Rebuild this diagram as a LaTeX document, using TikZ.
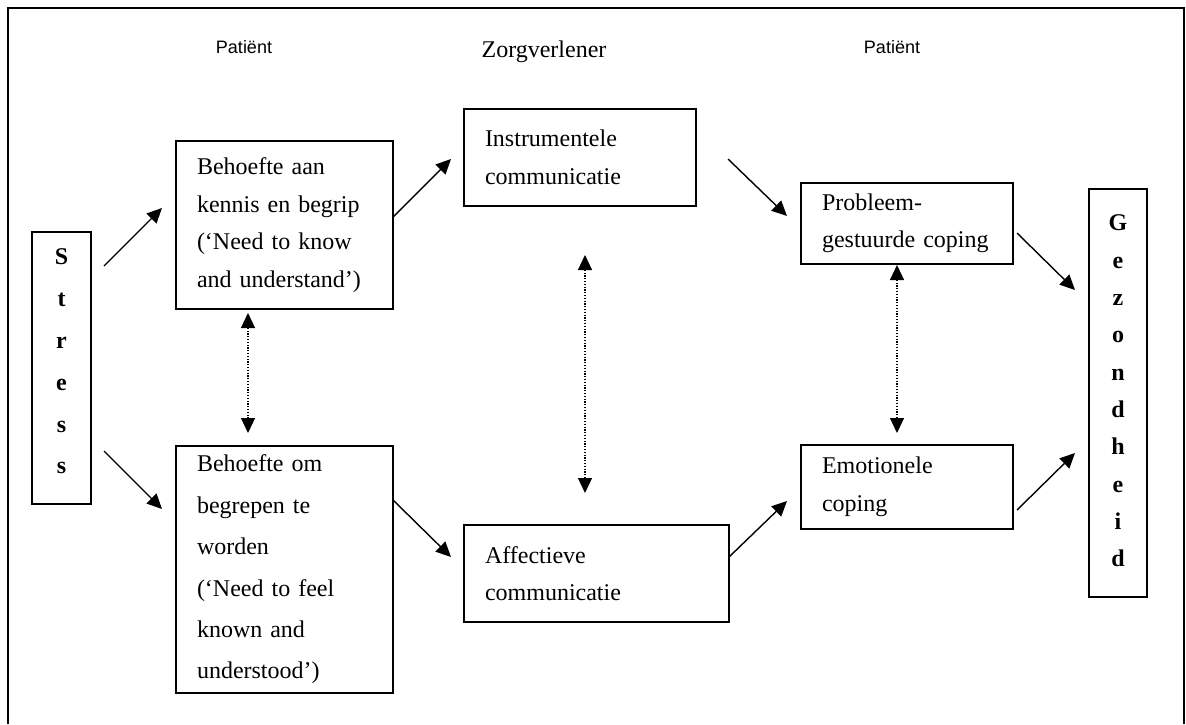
\documentclass[tikz,border=0pt]{standalone}
\usepackage{fontspec}
\setmainfont{Liberation Serif}
\newfontfamily\arialf{Liberation Sans}
\usetikzlibrary{arrows.meta,calc}
\begin{document}
\begin{tikzpicture}[x=1pt,y=-1pt,
  box/.style={draw,line width=1.6pt,rectangle,outer sep=0pt,inner ysep=0pt,inner xsep=21pt,
    anchor=north west,align=left,font=\fontsize{24}{37.5}\selectfont},
  vbox/.style={draw,line width=1.6pt,rectangle,outer sep=0pt,inner sep=0pt,anchor=north west},
  letters/.style={align=center,inner sep=0pt,font=\bfseries\fontsize{24}{#1}\selectfont},
  arr/.style={line width=1.4pt,-{Triangle[length=15pt,width=14pt]}},
  darr/.style={line width=1.2pt,dash pattern=on 1.3pt off 1.5pt,{Triangle[length=15pt,width=14pt]}-{Triangle[length=15pt,width=14pt]}},
  sanshead/.style={font=\arialf\fontsize{18}{20}\selectfont,anchor=base,inner sep=0pt},
  serifhead/.style={font=\fontsize{24}{28}\selectfont,anchor=base,inner sep=0pt}
]
\useasboundingbox (0,0) rectangle (1186,724);
\fill[white] (0,0) rectangle (1186,724);
% frame (open at bottom)
\coordinate (fbl) at (8,724);
\coordinate (ftl) at (8,8);
\coordinate (ftr) at (1184,8);
\coordinate (fbr) at (1184,724);
\draw[line width=2pt] (fbl) -- (ftl) -- (ftr) -- (fbr);

% headers
\node[sanshead] (hp1) at (244,53) {Patiënt};
\node[serifhead] (hz) at (544,57) {Zorgverlener};
\node[sanshead] (hp2) at (892,53) {Patiënt};

% boxes
\node[vbox,minimum width=59pt,minimum height=272pt] (stress) at (32,232) {};
\node[letters=41.8] (stresstxt) at ([yshift=6.5pt]stress.center) {S\\t\\r\\e\\s\\s};

\node[box,text width=175pt,minimum height=168pt] (b1) at (176,141)
  {Behoefte aan\\kennis en begrip\\(‘Need to know\\and understand’)};
\node[box,text width=175pt,minimum height=247pt,font=\fontsize{24}{41.4}\selectfont] (b2) at (176,446)
  {Behoefte om\\begrepen te\\worden\\(‘Need to feel\\known and\\understood’)};

\node[box,text width=190pt,minimum height=97pt] (instr) at (464,109)
  {Instrumentele\\communicatie};
\node[box,text width=223pt,minimum height=97pt] (affect) at (464,525)
  {Affectieve\\communicatie};

\node[box,text width=170pt,minimum height=81pt] (prob) at (801,183)
  {Probleem-\\gestuurde coping};
\node[box,text width=170pt,minimum height=84pt] (emot) at (801,445)
  {Emotionele\\coping};

\node[vbox,minimum width=58pt,minimum height=408pt] (gez) at (1089,189) {};
\node[letters=37.3] (geztxt) at ([yshift=2pt]gez.center) {G\\e\\z\\o\\n\\d\\h\\e\\i\\d};

% solid arrows
\draw[arr] ($(stress.north east)+(13,34)$) -- ($(b1.north west)+(-14,67)$);
\draw[arr] ($(stress.north east)+(13,219)$) -- ($(b2.north west)+(-14,63)$);
\draw[arr] ($(b1.north east)+(0,76)$) -- ($(instr.north west)+(-13,50)$);
\draw[arr] ($(b2.north east)+(0,54)$) -- ($(affect.north west)+(-13,32)$);
\draw[arr] ($(instr.north east)+(32,50)$) -- ($(prob.north west)+(-14,33)$);
\draw[arr] ($(affect.north east)+(0,32)$) -- ($(emot.north west)+(-14,56)$);
\draw[arr] ($(prob.north east)+(4,50)$) -- ($(gez.north west)+(-14,101)$);
\draw[arr] ($(emot.north east)+(4,65)$) -- ($(gez.north west)+(-14,264)$);

% dotted double arrows
\draw[darr] ($(b1.south west)+(72,4)$) -- ($(b2.north west)+(72,-13)$);
\draw[darr] ($(instr.south west)+(121,49)$) -- ($(affect.north west)+(121,-32)$);
\draw[darr] ($(prob.south west)+(96,1)$) -- ($(emot.north west)+(96,-12)$);
\end{tikzpicture}
\end{document}
